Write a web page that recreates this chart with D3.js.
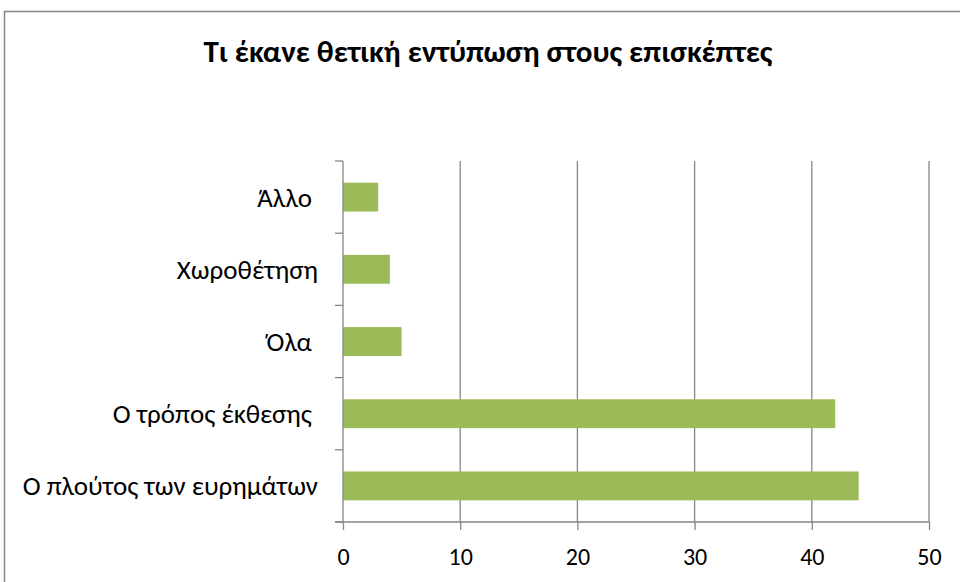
<!DOCTYPE html>
<html>
<head>
<meta charset="utf-8">
<script src="https://cdn.jsdelivr.net/npm/d3@7"></script>
<style>
  body { margin: 0; background: #fff; }
  svg text { font-family: Carlito, "Noto Sans", sans-serif; fill: #000; white-space: pre; }
</style>
</head>
<body>
<div id="container"></div>
<script>
// values, bottom to top
const categories = ["Ο πλούτος των ευρημάτων", "Ο τρόπος έκθεσης ", "Όλα ", "Χωροθέτηση", "Άλλο "]
const values = [44, 42, 5, 4, 3]
const xTicks = [0, 10, 20, 30, 40, 50]
const title = "Τι έκανε θετική εντύπωση στους επισκέπτες"

const width = 960,
  height = 582,
  margin = { top: 161, bottom: 60, left: 343, right: 31 }

const svg = d3.select("#container")
  .append("svg")
  .attr("width", width)
  .attr("height", height)

// outer chart frame (runs off the window on the right and bottom)
svg.append("rect")
  .attr("x", 4.5)
  .attr("y", 11.5)
  .attr("width", 1000)
  .attr("height", 1000)
  .attr("fill", "none")
  .attr("stroke", "#868686")
  .attr("stroke-width", 1.5)

svg.append("text")
  .attr("x", 488)
  .attr("y", 62)
  .attr("text-anchor", "middle")
  .attr("font-size", 31)
  .attr("font-weight", "bold")
  .text(title)

const xScale = d3.scaleLinear()
  .domain([0, 50])
  .range([margin.left, width - margin.right])

const yScale = d3.scaleBand()
  .domain(categories.slice().reverse())
  .range([margin.top, height - margin.bottom])
  .paddingInner(0.6)
  .paddingOuter(0.3)

// gridlines
svg.append("g")
  .selectAll("line")
  .data(xTicks.slice(1))
  .join("line")
  .attr("x1", d => xScale(d))
  .attr("x2", d => xScale(d))
  .attr("y1", margin.top)
  .attr("y2", height - margin.bottom)
  .attr("stroke", "#868686")
  .attr("stroke-width", 1.3)

// bars
svg.selectAll(".bar")
  .data(categories)
  .join("rect")
  .attr("class", "bar")
  .attr("x", xScale(0))
  .attr("y", d => yScale(d))
  .attr("width", (d, i) => xScale(values[i]) - xScale(0))
  .attr("height", yScale.bandwidth())
  .attr("fill", "#9BBB59")

// x axis
const xAxis = d3.axisBottom(xScale)
  .tickValues(xTicks)
  .tickSize(8)
  .tickPadding(18)

const xAxisGroup = svg.append("g")
  .attr("transform", `translate(0, ${height - margin.bottom})`)
  .call(xAxis)
xAxisGroup.select(".domain").remove()
xAxisGroup.append("line")
  .attr("x1", xScale(0) - 8)
  .attr("x2", xScale(50))
  .attr("stroke", "#868686")
  .attr("stroke-width", 1.3)
xAxisGroup.selectAll(".tick line").attr("stroke", "#868686").attr("stroke-width", 1.3)
xAxisGroup.selectAll(".tick text")
  .attr("font-size", 24)
  .attr("font-family", null)

// y axis: ticks sit between categories
const yAxisGroup = svg.append("g")
  .attr("transform", `translate(${xScale(0)}, 0)`)
yAxisGroup.append("line")
  .attr("y1", margin.top)
  .attr("y2", height - margin.bottom)
  .attr("stroke", "#868686")
  .attr("stroke-width", 1.3)

const bounds = d3.range(categories.length + 1).map(i => margin.top + i * (height - margin.top - margin.bottom) / categories.length)
yAxisGroup.selectAll(".ytick")
  .data(bounds)
  .join("line")
  .attr("class", "ytick")
  .attr("x1", -8)
  .attr("x2", 0)
  .attr("y1", d => d)
  .attr("y2", d => d)
  .attr("stroke", "#868686")
  .attr("stroke-width", 1.3)

yAxisGroup.selectAll(".ylabel")
  .data(categories)
  .join("text")
  .attr("class", "ylabel")
  .attr("x", -25)
  .attr("y", d => yScale(d) + yScale.bandwidth() / 2)
  .attr("dy", "0.35em")
  .attr("text-anchor", "end")
  .attr("font-size", 27)
  .text(d => d)
</script>
</body>
</html>
